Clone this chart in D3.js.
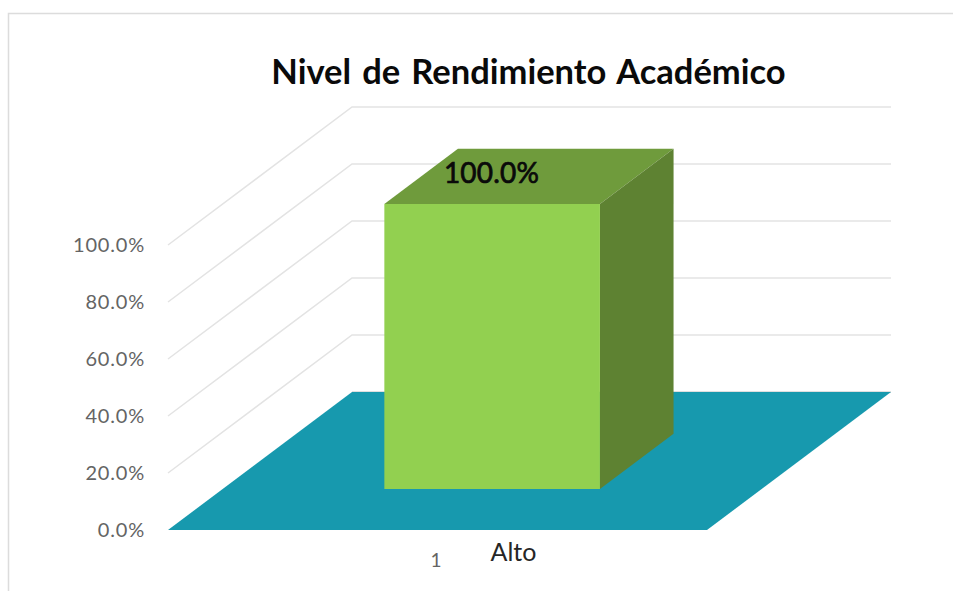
<!DOCTYPE html>
<html><head><meta charset="utf-8">
<script src="https://cdn.jsdelivr.net/npm/d3@7"></script>
<style>html,body{margin:0;padding:0;background:#fff}svg{display:block}</style>
</head><body><svg id="c" width="953" height="591"></svg>
<script>
const titleText = "Nivel de Rendimiento Académico";
const categories = ["Alto"];
const seriesIndex = ["1"];
const values = [100];
const valueTicks = [0, 20, 40, 60, 80, 100];

const svg = d3.select("#c");
const font = "Lato, 'Open Sans', sans-serif";

// oblique projection: floor width (u), depth (d), height (v)
const xU = d3.scaleLinear().domain([0, 1]).range([168, 707]);
const dX = d3.scaleLinear().domain([0, 1]).range([0, 184]);
const dY = d3.scaleLinear().domain([0, 1]).range([0, -138]);
const yV = d3.scaleLinear().domain([0, 100]).range([530, 245]);
const project = (u, d, v) => [xU(u) + dX(d), yV(v) + dY(d)];
const line = d3.line();

// frame
svg.append("path").attr("d", "M8.5,591V13.5H953").attr("fill", "none").attr("stroke", "#dcdcdc").attr("stroke-width", 1.5);

// gridlines
svg.append("g").selectAll("path").data(valueTicks.slice(1)).join("path")
  .attr("d", v => line([project(0, 0, v), project(0, 1, v), project(1, 1, v)]))
  .attr("fill", "none").attr("stroke", "#e3e3e3").attr("stroke-width", 1.5);
svg.append("path").attr("d", line([project(0, 1, 0), project(1, 1, 0)]))
  .attr("fill", "none").attr("stroke", "#d5d5d5").attr("stroke-width", 1.5);

// floor
svg.append("path")
  .attr("d", line([project(0, 0, 0), project(1, 0, 0), project(1, 1, 0), project(0, 1, 0)]) + "Z")
  .attr("fill", "#1799ae");

// bars
const band = d3.scaleBand().domain(categories).range([0, 1]).paddingInner(0).paddingOuter(0.75);
const d0 = 0.297, d1 = 0.697;
const bars = svg.append("g").selectAll("g").data(categories.map((c, i) => ({c, v: values[i]}))).join("g");
bars.append("path")
  .attr("d", b => { const r = band(b.c) + band.bandwidth(), l = band(b.c);
    return line([project(l, d0, b.v), project(r, d0, b.v), project(r, d1, b.v), project(l, d1, b.v)]) + "Z"; })
  .attr("fill", "#6f9b3c");
bars.append("path")
  .attr("d", b => { const r = band(b.c) + band.bandwidth();
    return line([project(r, d0, 0), project(r, d1, 0), project(r, d1, b.v), project(r, d0, b.v)]) + "Z"; })
  .attr("fill", "#5e8232");
bars.append("path")
  .attr("d", b => { const r = band(b.c) + band.bandwidth(), l = band(b.c);
    return line([project(l, d0, 0), project(r, d0, 0), project(r, d0, b.v), project(l, d0, b.v)]) + "Z"; })
  .attr("fill", "#92d050");
bars.append("text")
  .attr("x", 491.5).attr("y", 183).attr("text-anchor", "middle")
  .attr("font-family", font).attr("font-size", 28).attr("letter-spacing", 0.2).attr("fill", "#0a0a0a")
  .attr("stroke", "#0a0a0a").attr("stroke-width", 0.7)
  .text(b => d3.format(".1f")(b.v) + "%");

// value axis labels
svg.append("g").selectAll("text").data(valueTicks).join("text")
  .attr("x", 145).attr("y", v => yV(v) + 7).attr("text-anchor", "end")
  .attr("font-family", font).attr("font-size", 20).attr("letter-spacing", 0.8).attr("fill", "#646464")
  .text(v => d3.format(".1f")(v) + "%");

// title
svg.append("text").attr("x", 528.5).attr("y", 84).attr("text-anchor", "middle")
  .attr("font-family", font).attr("font-size", 34.5).attr("font-weight", 700).attr("word-spacing", 2.7).attr("fill", "#0a0a0a")
  .text(titleText);

// category labels
svg.append("text").attr("x", 436).attr("y", 567).attr("text-anchor", "middle")
  .attr("font-family", font).attr("font-size", 19).attr("fill", "#646464").text(seriesIndex[0]);
svg.append("text").attr("x", 513.5).attr("y", 561).attr("text-anchor", "middle")
  .attr("font-family", font).attr("font-size", 25).attr("fill", "#262626").text(categories[0]);
</script></body></html>
